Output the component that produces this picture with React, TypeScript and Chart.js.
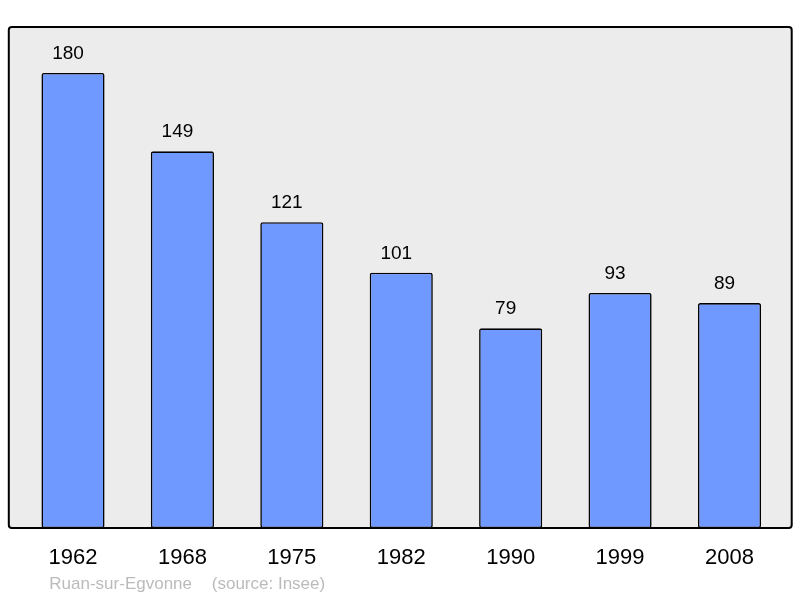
import React, { useEffect, useRef } from "react";
import { Chart, registerables } from "chart.js";

Chart.register(...registerables);

const categories = ["1962", "1968", "1975", "1982", "1990", "1999", "2008"];
const population = [180, 149, 121, 101, 79, 93, 89];
const sourceLeft = "Ruan-sur-Egvonne";
const sourceRight = "(source: Insee)";

const FONT = "'Liberation Sans', Arial, sans-serif";

const framePlugin = {
  id: "frame",
  beforeDraw(chart: any) {
    const { ctx, chartArea } = chart;
    const l = chartArea.left - 9.5;
    const r = chartArea.right + 7.5;
    const t = chartArea.top;
    const b = chartArea.bottom;
    ctx.save();
    ctx.beginPath();
    (ctx as any).roundRect(l, t, r - l, b - t, 3);
    ctx.fillStyle = "#ececec";
    ctx.fill();
    ctx.restore();
  },
  afterDatasetsDraw(chart: any) {
    const { ctx, chartArea } = chart;
    const l = chartArea.left - 9.5;
    const r = chartArea.right + 7.5;
    const t = chartArea.top;
    const b = chartArea.bottom;
    ctx.save();
    ctx.beginPath();
    (ctx as any).roundRect(l, t, r - l, b - t, 3);
    ctx.lineWidth = 2;
    ctx.strokeStyle = "#000";
    ctx.stroke();

    const xs = chart.scales.x;
    const ys = chart.scales.y;
    // value labels
    ctx.fillStyle = "#000";
    ctx.textAlign = "center";
    ctx.textBaseline = "alphabetic";
    ctx.font = `19px ${FONT}`;
    population.forEach((v, i) => {
      const x = xs.getPixelForValue(i);
      const y = ys.getPixelForValue(v);
      ctx.fillText(String(v), x - 5, y - 14);
    });
    // category labels
    ctx.font = `22px ${FONT}`;
    categories.forEach((c, i) => {
      const x = xs.getPixelForValue(i);
      ctx.fillText(c, x, b + 36);
    });
    // source line
    ctx.fillStyle = "#bbbbbb";
    ctx.textAlign = "left";
    ctx.font = `17px ${FONT}`;
    ctx.fillText(sourceLeft, l + 40.5, b + 61);
    ctx.fillText(sourceRight, l + 203, b + 61);
    ctx.restore();
  },
};

export default function App() {
  const ref = useRef<HTMLCanvasElement>(null);
  useEffect(() => {
    if (!ref.current) return;
    const chart = new Chart(ref.current, {
      type: "bar",
      data: {
        labels: categories,
        datasets: [
          {
            data: population,
            backgroundColor: "#7099ff",
            borderColor: "#000",
            borderWidth: 1.6,
            borderSkipped: false,
            borderRadius: 2,
            barPercentage: 0.577,
            categoryPercentage: 1,
          },
        ],
      },
      options: {
        animation: false,
        responsive: false,
        maintainAspectRatio: false,
        layout: { padding: { left: 18.3, right: 15.8, top: 27, bottom: 70 } },
        plugins: { legend: { display: false }, tooltip: { enabled: false } },
        scales: {
          x: { display: false, offset: true },
          y: { display: false, min: 0, max: 198.2 },
        },
      },
      plugins: [framePlugin],
    });
    return () => chart.destroy();
  }, []);
  return (
    <div style={{ position: "absolute", left: 0, top: 0, width: 800, height: 598 }}>
      <canvas ref={ref} width={800} height={598} style={{ width: 800, height: 598, display: "block" }} />
    </div>
  );
}
